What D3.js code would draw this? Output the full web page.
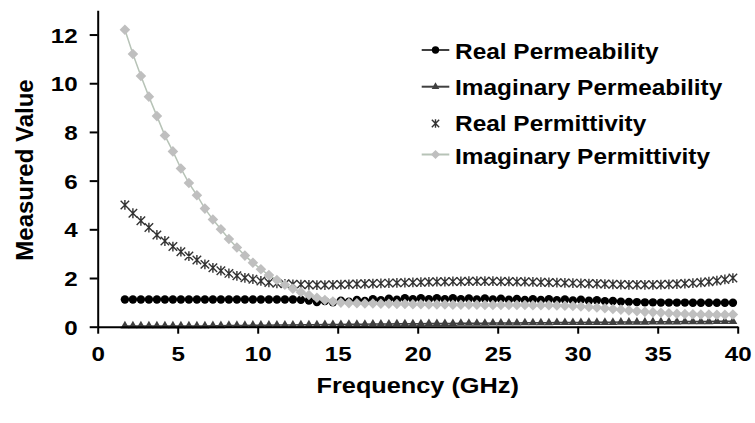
<!DOCTYPE html>
<html><head><meta charset="utf-8">
<script src="https://cdn.jsdelivr.net/npm/d3@7"></script>
<style>body{margin:0;background:#fff}svg{display:block}text{font-family:"Liberation Sans",Arial,sans-serif;font-weight:bold;fill:#000}</style>
</head><body><svg id="c" width="755" height="423"></svg>
<script>
const freq = [1.7,2.2,2.7,3.2,3.7,4.2,4.7,5.2,5.7,6.2,
6.7,7.2,7.7,8.2,8.7,9.2,9.7,10.2,10.7,11.2,
11.7,12.2,12.7,13.2,13.7,14.2,14.7,15.2,15.7,16.2,
16.7,17.2,17.7,18.2,18.7,19.2,19.7,20.2,20.7,21.2,
21.7,22.2,22.7,23.2,23.7,24.2,24.7,25.2,25.7,26.2,
26.7,27.2,27.7,28.2,28.7,29.2,29.7,30.2,30.7,31.2,
31.7,32.2,32.7,33.2,33.7,34.2,34.7,35.2,35.7,36.2,
36.7,37.2,37.7,38.2,38.7,39.2,39.7];

const realPermeability = [1.12,1.12,1.12,1.12,1.12,1.12,1.12,1.12,1.12,1.12,
1.12,1.12,1.12,1.12,1.12,1.12,1.12,1.12,1.12,1.12,
1.12,1.12,1.11,1.08,1.01,1.05,1.00,1.07,1.03,1.10,
1.06,1.13,1.09,1.15,1.11,1.17,1.13,1.17,1.13,1.17,
1.13,1.17,1.13,1.16,1.12,1.16,1.12,1.15,1.11,1.14,
1.10,1.13,1.10,1.13,1.09,1.12,1.08,1.11,1.07,1.09,
1.05,1.06,1.03,1.02,1.01,1.00,1.00,0.99,0.99,0.99,
0.99,0.98,0.98,0.98,0.98,0.98,0.98];

const imagPermeability = [0.03,0.03,0.03,0.03,0.03,0.03,0.03,0.03,0.03,0.03,
0.03,0.04,0.04,0.05,0.05,0.05,0.06,0.06,0.06,0.07,
0.07,0.07,0.08,0.08,0.08,0.09,0.09,0.09,0.10,0.10,
0.10,0.11,0.11,0.11,0.12,0.12,0.12,0.12,0.13,0.13,
0.13,0.13,0.14,0.14,0.14,0.14,0.15,0.15,0.15,0.15,
0.16,0.16,0.16,0.16,0.17,0.17,0.17,0.17,0.18,0.18,
0.18,0.18,0.19,0.19,0.19,0.19,0.20,0.20,0.20,0.20,
0.21,0.21,0.21,0.21,0.22,0.22,0.22];

const realPermittivity = [5.00,4.66,4.35,4.07,3.77,3.52,3.29,3.08,2.90,2.74,
2.56,2.42,2.30,2.19,2.09,2.01,1.95,1.88,1.82,1.78,
1.76,1.74,1.73,1.72,1.71,1.71,1.72,1.73,1.74,1.75,
1.76,1.77,1.78,1.79,1.80,1.81,1.82,1.83,1.84,1.85,
1.85,1.86,1.86,1.87,1.87,1.87,1.87,1.86,1.86,1.85,
1.85,1.84,1.83,1.82,1.81,1.80,1.79,1.78,1.77,1.76,
1.75,1.74,1.73,1.72,1.72,1.72,1.72,1.73,1.74,1.75,
1.77,1.79,1.82,1.85,1.89,1.94,2.00];

const imagPermittivity = [12.2,11.2,10.3,9.45,8.65,7.85,7.2,6.5,5.9,5.4,
4.85,4.4,4.0,3.6,3.25,2.92,2.63,2.36,2.12,1.92,
1.72,1.56,1.42,1.30,1.19,1.10,1.03,0.99,0.97,0.96,
0.95,0.95,0.94,0.94,0.93,0.93,0.92,0.92,0.91,0.91,
0.91,0.90,0.90,0.90,0.90,0.89,0.89,0.89,0.89,0.89,
0.89,0.88,0.88,0.88,0.87,0.86,0.85,0.83,0.81,0.79,
0.76,0.73,0.70,0.67,0.64,0.61,0.59,0.57,0.55,0.53,
0.52,0.51,0.50,0.50,0.49,0.49,0.50];

const seriesNames = ["Real Permeability","Imaginary Permeability","Real Permittivity","Imaginary Permittivity"];
const xTicks = [0,5,10,15,20,25,30,35,40];
const yTicks = [0,2,4,6,8,10,12];
const xTitle = "Frequency (GHz)";
const yTitle = "Measured Value";

const svg = d3.select("#c");
svg.append("rect").attr("width",755).attr("height",423).attr("fill","#fff");

const x = d3.scaleLinear().domain([0,40]).range([97.7,737.7]);
const y = d3.scaleLinear().domain([0,13]).range([326.7,10.2]);

// custom symbols
const symbolStar = {draw(ctx,size){const r=Math.sqrt(size)/2;
  ctx.moveTo(-r,-r);ctx.lineTo(r,r);ctx.moveTo(-r,r);ctx.lineTo(r,-r);
  ctx.moveTo(0,-r*1.15);ctx.lineTo(0,r*1.15);}};
const symbolDiam = {draw(ctx,size){const r=Math.sqrt(size/2);
  ctx.moveTo(0,-r);ctx.lineTo(r,0);ctx.lineTo(0,r);ctx.lineTo(-r,0);ctx.closePath();}};

const series = [
  {name:seriesNames[0], values:realPermeability, sym:d3.symbolCircle, size:56, fill:"#000", stroke:"none", sw:0, line:"#000", lw:1},
  {name:seriesNames[1], values:imagPermeability, sym:d3.symbolTriangle, size:34, fill:"#404040", stroke:"none", sw:0, line:"#404040", lw:1.5},
  {name:seriesNames[2], values:realPermittivity, sym:symbolStar, size:72, fill:"none", stroke:"#333", sw:1.4, line:null, lw:0},
  {name:seriesNames[3], values:imagPermittivity, sym:symbolDiam, size:56, fill:"#bfbfbf", stroke:"none", sw:0, line:"#b7c3b7", lw:1.5}
];

const lineGen = d3.line().x(d=>x(d.f)).y(d=>y(d.v));
series.forEach(s=>{
  const pts = freq.map((f,i)=>({f, v:s.values[i]}));
  const g = svg.append("g");
  if(s.line){
    g.append("path").attr("d",lineGen(pts)).attr("fill","none").attr("stroke",s.line).attr("stroke-width",s.lw);
  }
  const sy = d3.symbol().type(s.sym).size(s.size);
  g.selectAll("path.m").data(pts).join("path").attr("class","m")
    .attr("transform",d=>`translate(${x(d.f)},${y(d.v)})`)
    .attr("d",sy).attr("fill",s.fill).attr("stroke",s.stroke).attr("stroke-width",s.sw);
});

// axes
const xAxis = svg.append("g").attr("transform",`translate(0,${y(0)})`)
  .call(d3.axisBottom(x).tickValues(xTicks).tickSize(7).tickSizeOuter(0).tickFormat(d3.format("d")));
const yAxis = svg.append("g").attr("transform",`translate(${x(0)},0)`)
  .call(d3.axisLeft(y).tickValues(yTicks).tickSize(8).tickSizeOuter(0).tickFormat(d3.format("d")));
[xAxis,yAxis].forEach(a=>{
  a.attr("font-family",null).attr("font-size",null);
  a.select(".domain").attr("stroke","#000").attr("stroke-width",2);
  a.selectAll(".tick line").attr("stroke","#000").attr("stroke-width",2);
  a.selectAll("text").style("font-size","21px").attr("fill","#000");
});
xAxis.selectAll(".tick text").attr("y",0).attr("dy",null)
  .attr("transform","translate(0,34) scale(1.15,1)");
yAxis.selectAll(".tick text").attr("x",0).attr("dy",null)
  .attr("transform","translate(-20,7.5) scale(1.15,1)");

// titles
svg.append("text").attr("transform","translate(417.7,393) scale(1.15,1)")
  .attr("text-anchor","middle").style("font-size","22px").text(xTitle);
svg.append("text").attr("transform","translate(33,170) rotate(-90)")
  .attr("text-anchor","middle").style("font-size","24px").text(yTitle);

// legend
const legY = [50,86.7,123.5,154.5];
const legTextY = [58.5,94.5,130.5,163.5];
series.forEach((s,i)=>{
  const g = svg.append("g");
  if(s.line){
    g.append("line").attr("x1",421.7).attr("x2",449.3).attr("y1",legY[i]).attr("y2",legY[i])
      .attr("stroke",s.line).attr("stroke-width",s.lw+0.5);
  }
  g.append("path").attr("transform",`translate(435.5,${legY[i]})`)
    .attr("d",d3.symbol().type(s.sym).size(s.size*0.75)).attr("fill",s.fill).attr("stroke",s.stroke).attr("stroke-width",s.sw);
  g.append("text").attr("transform",`translate(455,${legTextY[i]}) scale(1.11,1)`)
    .style("font-size","22px").text(s.name);
});
</script></body></html>
